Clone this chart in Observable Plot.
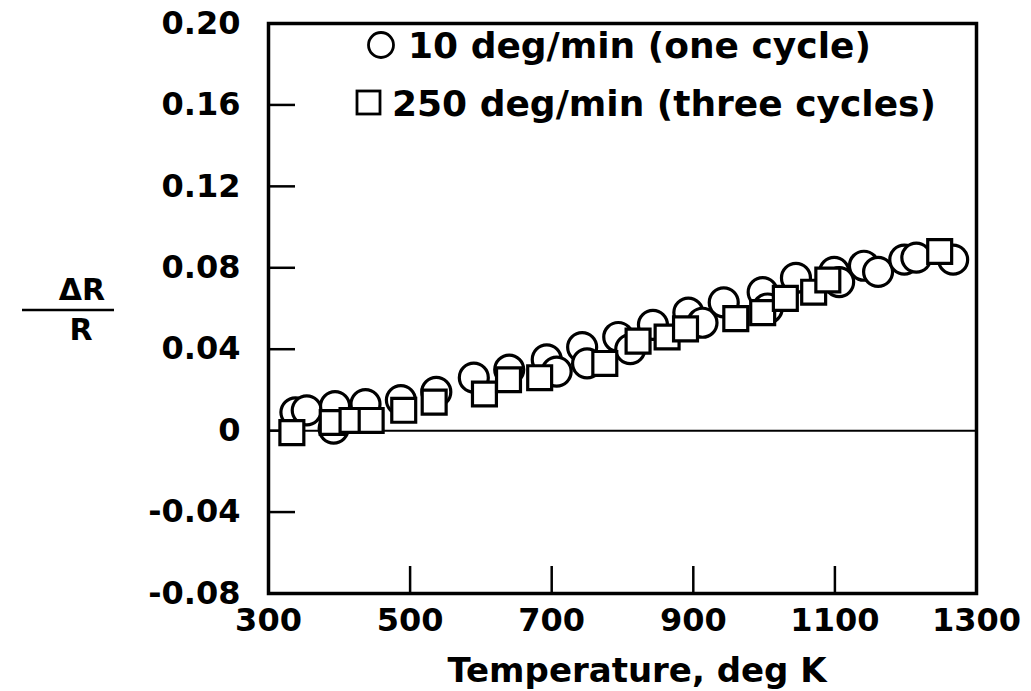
<!DOCTYPE html>
<html><head><meta charset="utf-8">
<script src="https://cdn.jsdelivr.net/npm/d3@7"></script>
<script src="https://cdn.jsdelivr.net/npm/@observablehq/plot@0.6"></script>
<style>
body{margin:0;background:#fff;}
#chart{position:relative;width:1031px;height:691px;}
svg text{font-family:"DejaVu Sans",sans-serif;font-weight:bold;}
</style>
</head><body><div id="chart"></div>
<script>
// 10 deg/min (one cycle) — circles
const circleT = [338, 354, 394, 392, 437, 487, 537, 590, 640, 693, 707, 743, 750, 794, 811, 843, 893, 913, 943, 998, 1005, 1045, 1099, 1106, 1141, 1161, 1198, 1215, 1267];
const circleV = [0.009, 0.010, 0.012, 0.001, 0.013, 0.015, 0.019, 0.026, 0.030, 0.035, 0.029, 0.041, 0.033, 0.046, 0.040, 0.052, 0.058, 0.053, 0.063, 0.068, 0.060, 0.075, 0.078, 0.073, 0.081, 0.078, 0.084, 0.085, 0.084];
// 250 deg/min (three cycles) — squares
const squareT = [333, 390, 418, 445, 491, 534, 605, 639, 683, 775, 822, 863, 889, 960, 998, 1030, 1070, 1090, 1248];
const squareV = [-0.001, 0.004, 0.005, 0.005, 0.010, 0.014, 0.018, 0.025, 0.026, 0.033, 0.044, 0.046, 0.050, 0.055, 0.058, 0.065, 0.068, 0.074, 0.088];

const xTicks = [300, 500, 700, 900, 1100, 1300];
const yTicks = [-0.08, -0.04, 0, 0.04, 0.08, 0.12, 0.16, 0.20];
const legendLabels = ["10 deg/min (one cycle)", "250 deg/min (three cycles)"];
const xTitle = "Temperature, deg K";
const yTitleTop = "ΔR";
const yTitleBottom = "R";

const circles = circleT.map((t, i) => ({t, v: circleV[i]}));
const squares = squareT.map((t, i) => ({t, v: squareV[i]}));

const W = 1031, H = 691;
const mL = 268, mR = 55, mT = 23, mB = 98;
const innerW = W - mL - mR, innerH = H - mT - mB;
const tickLen = 27;
const fmtY = d => d === 0 ? "0" : (d < 0 ? "-" : "") + Math.abs(d).toFixed(2);

const plot = Plot.plot({
  width: W, height: H,
  marginLeft: mL, marginRight: mR, marginTop: mT, marginBottom: mB,
  style: {fontFamily: "DejaVu Sans, sans-serif", fontSize: "32px", fontWeight: "bold", color: "black", background: "white"},
  x: {domain: [300, 1300], ticks: xTicks, tickSize: 0, tickPadding: 15, tickFormat: d => String(d), label: null},
  y: {domain: [-0.08, 0.20], ticks: yTicks, tickSize: 0, tickPadding: 28, tickFormat: fmtY, label: null},
  marks: [
    Plot.ruleY([0], {stroke: "black", strokeWidth: 2}),
    Plot.tickX(xTicks, {x: d => d, insetTop: innerH - tickLen, stroke: "black", strokeWidth: 2.5}),
    Plot.tickY(yTicks, {y: d => d, insetRight: innerW - tickLen, stroke: "black", strokeWidth: 2.5}),
    Plot.dot(circles, {x: "t", y: "v", r: 14.5, symbol: "circle", stroke: "black", fill: "white", strokeWidth: 3.2}),
    Plot.dot(squares, {x: "t", y: "v", r: 13.5, symbol: "square", stroke: "black", fill: "white", strokeWidth: 3.2}),
    Plot.frame({stroke: "black", strokeWidth: 3.5})
  ]
});

const svg = d3.select(plot);
// legend
const lg = svg.append("g").attr("text-anchor", "start");
lg.append("circle").attr("cx", 381).attr("cy", 45).attr("r", 12.5).attr("fill", "white").attr("stroke", "black").attr("stroke-width", 2.8);
lg.append("text").attr("x", 408).attr("y", 58).attr("font-size", 36).text(legendLabels[0]);
lg.append("rect").attr("x", 357).attr("y", 91).attr("width", 23).attr("height", 23).attr("fill", "white").attr("stroke", "black").attr("stroke-width", 2.8);
lg.append("text").attr("x", 392).attr("y", 116).attr("font-size", 36).text(legendLabels[1]);
// x title
svg.append("text").attr("x", 637).attr("y", 682).attr("text-anchor", "middle").attr("font-size", 34).text(xTitle);
// y title as fraction
svg.append("text").attr("x", 82).attr("y", 300).attr("text-anchor", "middle").attr("font-size", 30).text(yTitleTop);
svg.append("line").attr("x1", 22).attr("x2", 114).attr("y1", 310).attr("y2", 310).attr("stroke", "black").attr("stroke-width", 2.5);
svg.append("text").attr("x", 81).attr("y", 340).attr("text-anchor", "middle").attr("font-size", 30).text(yTitleBottom);

document.getElementById("chart").appendChild(plot);
</script>
</body></html>
